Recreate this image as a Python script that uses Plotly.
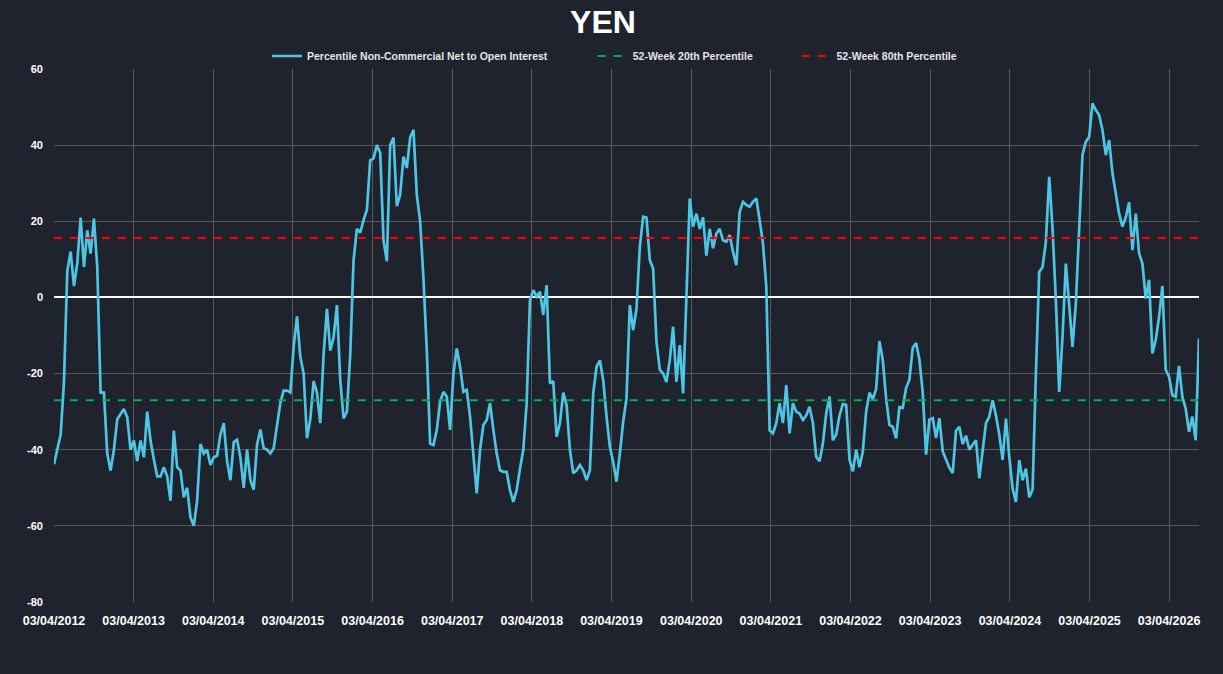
import pandas as pd
import plotly.graph_objects as go

# ---------------- data ----------------
title_text = "YEN"
series_name = "Percentile Non-Commercial Net to Open Interest"
p20_name = "52-Week 20th Percentile"
p80_name = "52-Week 80th Percentile"

start_date = "2012-03-04"
end_date = "2026-07-19"

p20_value = -27.0
p80_value = 15.6

tick_labels = ["03/04/2012", "03/04/2013", "03/04/2014", "03/04/2015", "03/04/2016",
               "03/04/2017", "03/04/2018", "03/04/2019", "03/04/2020", "03/04/2021",
               "03/04/2022", "03/04/2023", "03/04/2024", "03/04/2025", "03/04/2026"]

y_ticks = [60, 40, 20, 0, -20, -40, -60, -80]

vals_a = [-43.8, -40, -36, -22, 7, 12, 3, 9, 21, 8,
          17.6, 11.5, 20.7, 8, -25, -25, -41, -45.5, -40, -32,
          -30.6, -29.3, -31.5, -40, -37.6, -43, -37.6, -42, -30, -37.6,
          -42.5, -47, -47, -44.6, -47, -53.4, -35, -44.6, -45.5, -52.5,
          -50, -57.8, -60, -53.4, -38.5, -41, -40, -44, -42, -41.6]
vals_b = [-36, -33, -43, -48, -38, -37.4, -42, -50, -40, -48,
          -50.5, -38.7, -34.7, -39.6, -40, -41, -39.6, -34, -27.7, -24.5,
          -24.5, -25, -13, -5, -15.6, -20, -37, -32, -22, -25,
          -33, -15, -3, -14, -10.5, -2, -21.7, -31.8, -30, -15,
          9.8, 18, 17, 20.3, 23, 36, 36.5, 40, 38, 15]
vals_c = [9.5, 40, 42, 24, 27, 37, 34, 42, 44, 27,
          20, 5, -14, -38.4, -38.8, -34.8, -27.4, -24.8, -26, -34.8,
          -20, -13.4, -18.2, -24.8, -24.3, -31.3, -41.9, -51.5, -40, -33.5,
          -32.2, -27.8, -34.8, -41, -45.4, -45.8, -45.8, -50.6, -53.7, -50.6,
          -45, -40, -27.8, -0.7, 1.9, 0.2, 1.5, -4.6, 3.2, -22.6]
vals_d = [-22, -36.6, -33, -25, -28.3, -40, -46.2, -45.4, -44, -45.4,
          -48, -45.4, -25.2, -18.2, -16.5, -21.7, -31.3, -39.2, -43.2, -48.4,
          -41, -32.7, -26.5, -2, -8.6, -3, 13.3, 21.2, 21, 9.8,
          7.6, -11.6, -19, -20, -22.2, -16.5, -7.7, -22.2, -12.5, -25.2,
          0, 26, 18.6, 22, 18, 21, 11, 18, 12.9, 16.8]
vals_e = [18, 15, 14.6, 16.4, 12, 8.5, 22.5, 25.1, 24.3, 23.8,
          25.1, 26, 20.3, 14.2, 2.8, -34.9, -35.7, -33, -27.8, -33,
          -23, -35.7, -27.8, -30, -30.5, -32.2, -31, -28.7, -33, -41.9,
          -43, -38.4, -30.5, -26, -37.5, -36, -31, -28, -28.2, -42.6,
          -45.7, -40, -44.6, -40.5, -30, -25, -26.8, -24, -11.5, -16.5]
vals_f = [-26.5, -33.5, -34, -37, -28.8, -29, -23.8, -21.6, -13.2, -12,
          -16.3, -25, -41.3, -32.1, -31.7, -36.9, -31.7, -40.4, -42.6, -44.8,
          -46.1, -35, -34, -38.5, -36.3, -40, -38.7, -37.5, -47.5, -40,
          -33, -31.3, -27, -31, -36, -42.7, -31.8, -41.9, -50.2, -53.7,
          -42.7, -48, -45, -52.5, -50.5, -20, 6.7, 8, 14.6, 31.7]
vals_g = [18, -0.7, -24.8, -10.3, 8.9, -2, -13, -1.6, 19.4, 37.4,
          40.9, 42.2, 51, 49.2, 47.9, 44, 37.4, 41.3, 32.6, 27.3,
          22, 18.6, 21, 25, 12.4, 22, 11.6, 8.9, -0.3, 4.6,
          -14.7, -11.2, -5.1, 3, -19, -20.8, -25.7, -26.1, -18, -26.1,
          -29.2, -35.3, -31.3, -37.5, -10.8]

# ---------------- build ----------------
values = vals_a + vals_b + vals_c + vals_d + vals_e + vals_f + vals_g
dates = pd.date_range(start_date, end_date, periods=len(values))
tick_dates = [pd.to_datetime(t, format="%m/%d/%Y") for t in tick_labels]

BG = "#1F232E"
GRID = "#595959"
TXT = "#FFFFFF"
LEG_FONT = dict(family="Liberation Sans, Arial, sans-serif",
                size=10.5, color="#E6E6E6", weight="bold")

fig = go.Figure()
fig.add_trace(go.Scatter(x=dates, y=values, mode="lines", name=series_name,
                         line=dict(color="#4EC5E2", width=2.7), legend="legend"))
fig.add_trace(go.Scatter(x=dates, y=[p20_value] * len(dates), mode="lines", name=p20_name,
                         line=dict(color="#00B050", width=2, dash="8px,8px"), legend="legend2"))
fig.add_trace(go.Scatter(x=dates, y=[p80_value] * len(dates), mode="lines", name=p80_name,
                         line=dict(color="#FF0000", width=2, dash="8px,8px"), legend="legend3"))

leg_common = dict(orientation="h", yanchor="middle", y=1.0244, xanchor="left",
                  bgcolor="rgba(0,0,0,0)", font=LEG_FONT, itemwidth=30)

fig.update_layout(
    width=1223, height=674,
    paper_bgcolor=BG, plot_bgcolor=BG,
    margin=dict(l=54, r=24, t=69, b=72),
    title=dict(text=title_text, x=603 / 1223, xref="container", xanchor="center",
               y=1 - 22 / 674, yref="container", yanchor="middle",
               font=dict(family="Liberation Sans, Arial, sans-serif", size=32,
                         color=TXT, weight="bold")),
    showlegend=True,
    legend=dict(x=0.186, **leg_common),
    legend2=dict(x=0.4705, **leg_common),
    legend3=dict(x=0.6485, **leg_common),
    xaxis=dict(type="date", range=[dates[0], dates[-1]],
               tickmode="array", tickvals=tick_dates, ticktext=tick_labels,
               showgrid=True, gridcolor=GRID, gridwidth=1,
               zeroline=False, showline=False, ticks="", ticklabelstandoff=9,
               tickfont=dict(family="Liberation Sans, Arial, sans-serif", size=12.5,
                             color=TXT, weight="bold")),
    yaxis=dict(range=[-80, 60], tickmode="array", tickvals=y_ticks,
               ticktext=[str(v) for v in y_ticks],
               showgrid=True, gridcolor=GRID, gridwidth=1,
               zeroline=True, zerolinecolor="#FFFFFF", zerolinewidth=1.5,
               showline=False, ticks="", ticklabelstandoff=10,
               tickfont=dict(family="Liberation Sans, Arial, sans-serif", size=11,
                             color=TXT, weight="bold")),
)

fig.write_html("out.html",
               config={"displayModeBar": False},
               post_script="document.body.style.margin='0';document.body.style.padding='0';"
                           "document.body.style.background='" + BG + "';")
